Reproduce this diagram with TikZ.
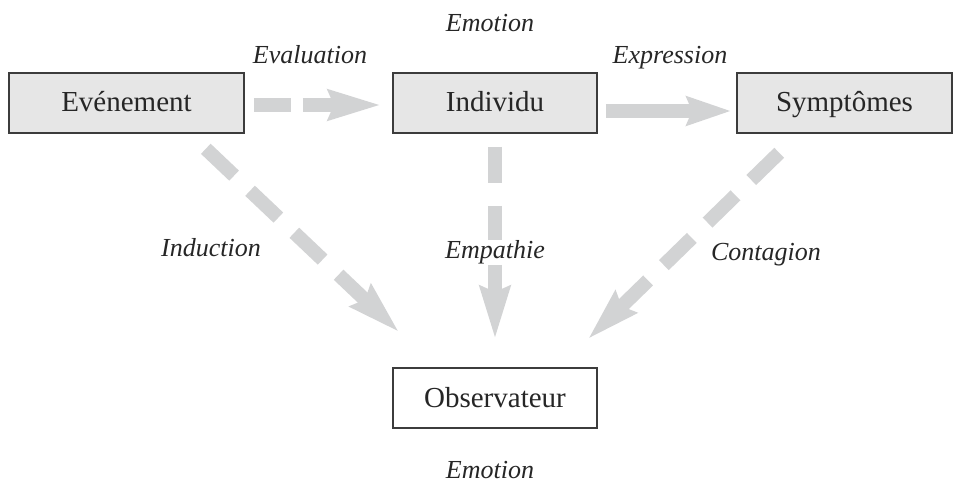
\documentclass[tikz,border=0pt]{standalone}
\usepackage{fontspec}
\setmainfont{Liberation Serif}
\usetikzlibrary{arrows.meta,calc}
\definecolor{arrgray}{RGB}{210,211,212}
\definecolor{boxgray}{RGB}{230,230,230}
\definecolor{edgegray}{RGB}{60,60,60}
\begin{document}
\begin{tikzpicture}[x=1pt,y=-1pt,
  box/.style={draw=edgegray,line width=1.6pt,minimum height=60pt,inner sep=0pt,text height=20pt,text depth=2pt,text=black!85,font=\fontsize{29}{32}\selectfont},
  gbox/.style={box,fill=boxgray},
  lbl/.style={font=\fontsize{26}{30}\selectfont\itshape,inner sep=1pt,text height=18pt,text depth=1pt,text=black!85},
  garrow/.style={draw=arrgray,line width=14pt,line cap=butt,-{Stealth[length=52pt,width=29pt,inset=5pt]}},
  dasharrow/.style={garrow,dash pattern=on 39pt off 22pt}
]
\useasboundingbox (0,0) rectangle (962,484);
\node[gbox,minimum width=235pt] (ev) at (126.5,103) {Evénement};
\node[gbox,minimum width=204pt] (ind) at (495,103) {Individu};
\node[gbox,minimum width=215pt] (sym) at (844.5,103) {Symptômes};
\node[box,fill=white,minimum width=204pt] (obs) at (495,398) {Observateur};

\draw[garrow,dash pattern=on 37pt off 12pt] ($(ev.east)+(9,2)$) -- ($(ind.west)+(-11,2)$);
\draw[garrow,-{Stealth[length=44pt,width=28pt,inset=5pt]}] ($(ind.east)+(8,8)$) -- ($(sym.west)+(-5,8)$);
\draw[dasharrow] ($(ev.south east)+(-39,15)$) -- ($(obs.north west)+(7,-35)$);
\draw[dasharrow,dash pattern=on 36pt off 23pt] ($(ind.south)+(0,13)$) -- ($(obs.north)+(0,-28)$);
\draw[dasharrow] ($(sym.south west)+(43,19)$) -- ($(obs.north east)+(-10,-28)$);

\node[lbl] (emo1) at (490,23) {Emotion};
\node[lbl] (evl) at (310,55) {Evaluation};
\node[lbl] (exl) at (670,55) {Expression};
\node[lbl] (inl) at (211,248) {Induction};
\node[lbl,fill=white] (eml) at (495,250) {Empathie};
\node[lbl] (col) at (766,252) {Contagion};
\node[lbl] (emo2) at (490,470) {Emotion};
\end{tikzpicture}
\end{document}
